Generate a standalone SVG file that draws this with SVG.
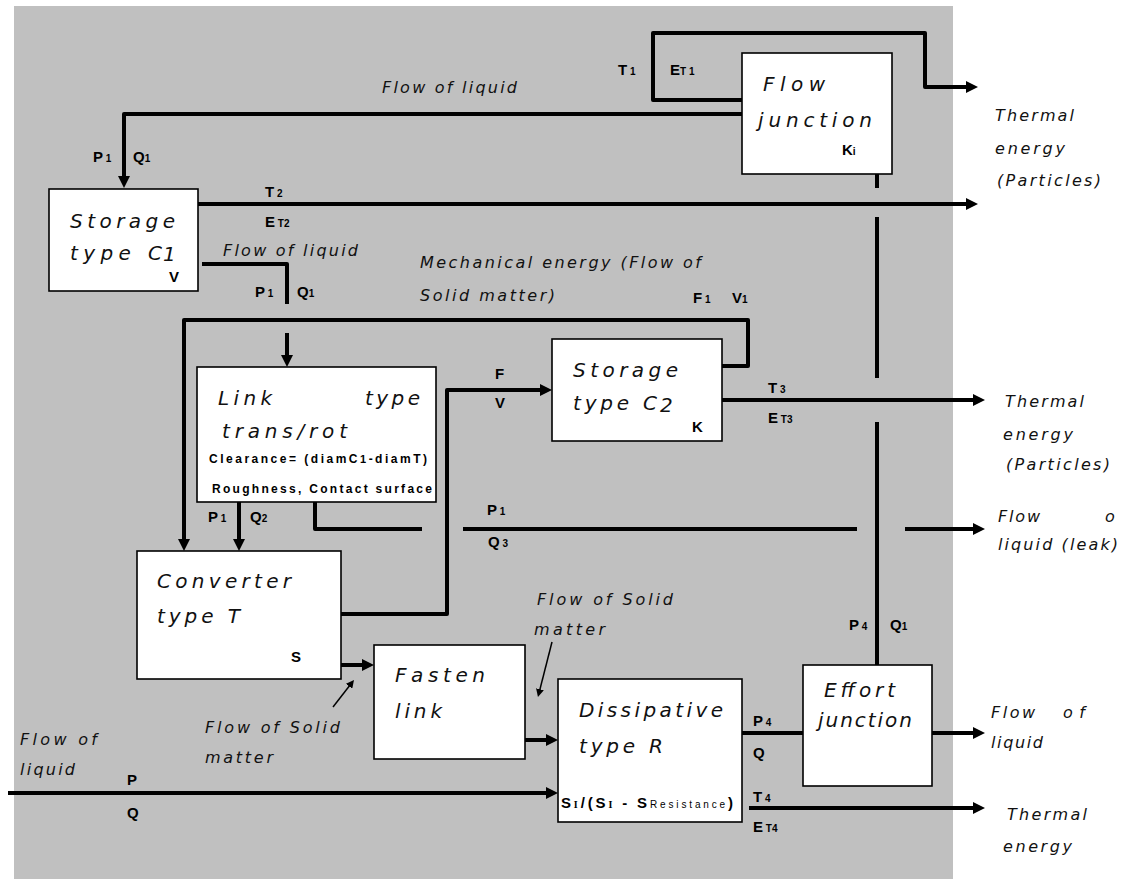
<svg xmlns="http://www.w3.org/2000/svg" width="1125" height="879" viewBox="0 0 1125 879">
<style>
.bg{fill:#c0c0c0}
.box{fill:#fff;stroke:#000;stroke-width:1.6}
.c{fill:none;stroke:#000;stroke-width:4;stroke-linejoin:round}
.t{fill:none;stroke:#000;stroke-width:1.5}
.it{font-family:"DejaVu Sans","Liberation Sans",sans-serif;font-style:italic;font-size:20px;fill:#111}
.sm{font-family:"DejaVu Sans","Liberation Sans",sans-serif;font-style:italic;font-size:16px;fill:#111}
.lb{font-family:"Liberation Sans",Arial,sans-serif;font-weight:bold;font-size:15px;fill:#000}
.sb{font-size:10px}
.nt{font-family:"Liberation Sans",Arial,sans-serif;font-weight:bold;font-size:12px;fill:#000}
</style>
<defs>
<marker id="ah" viewBox="0 0 12 12" markerWidth="12" markerHeight="12" refX="2" refY="6" orient="auto" markerUnits="userSpaceOnUse"><path d="M0,0 L12,6 L0,12 z" fill="#000"/></marker>
<marker id="as" viewBox="0 0 8 8" markerWidth="8" markerHeight="8" refX="1" refY="4" orient="auto" markerUnits="userSpaceOnUse"><path d="M0,0 L8,4 L0,8 z" fill="#000"/></marker>
</defs>
<rect class="bg" x="14" y="6" width="939" height="873"/>

<g id="connectors">
<path class="c" d="M742,100 H653 V33 H925 V87 H968" marker-end="url(#ah)"/>
<path class="c" d="M742,114 H124 V178" marker-end="url(#ah)"/>
<path class="c" d="M198,204 H968" marker-end="url(#ah)"/>
<path class="c" d="M202,264 H287 V304"/>
<path class="c" d="M287,333 V357" marker-end="url(#ah)"/>
<path class="c" d="M722,366 H748 V320 H184 V541" marker-end="url(#ah)"/>
<path class="c" d="M239,502 V541" marker-end="url(#ah)"/>
<path class="c" d="M315,502 V529 H422"/>
<path class="c" d="M463,529 H857"/>
<path class="c" d="M905,529 H975" marker-end="url(#ah)"/>
<path class="c" d="M341,614 H447 V390 H542" marker-end="url(#ah)"/>
<path class="c" d="M722,400 H975" marker-end="url(#ah)"/>
<path class="c" d="M877,174 V188 M877,217 V378 M877,422 V665"/>
<path class="c" d="M341,665 H364" marker-end="url(#ah)"/>
<path class="c" d="M525,740 H548" marker-end="url(#ah)"/>
<path class="c" d="M8,793 H548" marker-end="url(#ah)"/>
<path class="c" d="M742,733 H803"/>
<path class="c" d="M932,733 H975" marker-end="url(#ah)"/>
<path class="c" d="M749,808 H975" marker-end="url(#ah)"/>
<path class="t" d="M333,707 L349.7,685.5" marker-end="url(#as)"/>
<path class="t" d="M552,642 L539.7,690.2" marker-end="url(#as)"/>
</g>

<g id="flow-junction">
<rect class="box" x="742" y="53" width="150" height="121"/>
<text class="it" x="763" y="91" textLength="62" lengthAdjust="spacing">Flow</text>
<text class="it" x="758" y="127" textLength="114" lengthAdjust="spacing">junction</text>
<text class="lb" x="842" y="155">K<tspan class="sb">i</tspan></text>
</g>

<g id="storage-c1">
<rect class="box" x="49" y="189" width="149" height="102"/>
<text class="it" x="70" y="228" textLength="105" lengthAdjust="spacing">Storage</text>
<text class="it" x="70" y="260" textLength="92" lengthAdjust="spacing">type C</text>
<text class="it" x="163" y="261" font-size="11">1</text>
<text class="lb" x="169" y="282" font-size="15">V</text>
</g>

<g id="link">
<rect class="box" x="197" y="367" width="239" height="135"/>
<text class="it" x="218" y="405" textLength="54" lengthAdjust="spacing">Link</text>
<text class="it" x="365" y="405" textLength="55" lengthAdjust="spacing">type</text>
<text class="it" x="222" y="438" textLength="125" lengthAdjust="spacing">trans/rot</text>
<text class="nt" x="209" y="463" textLength="218" lengthAdjust="spacing">Clearance= (diamC<tspan font-size="11">1</tspan>-diamT)</text>
<text class="nt" x="212" y="493" textLength="220" lengthAdjust="spacing">Roughness, Contact surface</text>
</g>

<g id="storage-c2">
<rect class="box" x="552" y="339" width="170" height="102"/>
<text class="it" x="573" y="377" textLength="105" lengthAdjust="spacing">Storage</text>
<text class="it" x="573" y="410" textLength="84" lengthAdjust="spacing">type C</text>
<text class="it" x="660" y="412" font-size="12">2</text>
<text class="lb" x="692" y="432">K</text>
</g>

<g id="converter">
<rect class="box" x="137" y="551" width="204" height="128"/>
<text class="it" x="157" y="588" textLength="134" lengthAdjust="spacing">Converter</text>
<text class="it" x="157" y="623" textLength="83" lengthAdjust="spacing">type T</text>
<text class="lb" x="291" y="662">S</text>
</g>

<g id="fasten">
<rect class="box" x="374" y="645" width="151" height="114"/>
<text class="it" x="395" y="682" textLength="90" lengthAdjust="spacing">Fasten</text>
<text class="it" x="395" y="718" textLength="47" lengthAdjust="spacing">link</text>
</g>

<g id="dissipative">
<rect class="box" x="558" y="679" width="184" height="143"/>
<text class="it" x="579" y="717" textLength="144" lengthAdjust="spacing">Dissipative</text>
<text class="it" x="579" y="753" textLength="84" lengthAdjust="spacing">type R</text>
<text class="lb" x="561" y="808" font-size="18" textLength="172" lengthAdjust="spacing">S<tspan font-size="10" font-family="Liberation Serif,serif">I</tspan>/(S<tspan font-size="10" font-family="Liberation Serif,serif">I</tspan> - S<tspan font-size="10" font-weight="normal">Resistance</tspan>)</text>
</g>

<g id="effort-junction">
<rect class="box" x="803" y="665" width="129" height="121"/>
<text class="it" x="824" y="697" textLength="71" lengthAdjust="spacing">Effort</text>
<text class="it" x="818" y="727" textLength="94" lengthAdjust="spacing">junction</text>
</g>

<g id="labels">
<text class="sm" x="382" y="93" textLength="135" lengthAdjust="spacing">Flow of liquid</text>
<text class="sm" x="223" y="256" textLength="135" lengthAdjust="spacing">Flow of liquid</text>
<text class="sm" x="420" y="268" textLength="281" lengthAdjust="spacing">Mechanical energy (Flow of</text>
<text class="sm" x="420" y="301" textLength="135" lengthAdjust="spacing">Solid matter)</text>
<text class="sm" x="995" y="121" textLength="79" lengthAdjust="spacing">Thermal</text>
<text class="sm" x="995" y="154" textLength="70" lengthAdjust="spacing">energy</text>
<text class="sm" x="997" y="186" textLength="104" lengthAdjust="spacing">(Particles)</text>
<text class="sm" x="1005" y="407" textLength="79" lengthAdjust="spacing">Thermal</text>
<text class="sm" x="1003" y="440" textLength="70" lengthAdjust="spacing">energy</text>
<text class="sm" x="1006" y="470" textLength="104" lengthAdjust="spacing">(Particles)</text>
<text class="sm" x="998" y="522" textLength="42" lengthAdjust="spacing">Flow</text>
<text class="sm" x="1105" y="522">o</text>
<text class="sm" x="998" y="550" textLength="120" lengthAdjust="spacing">liquid (leak)</text>
<text class="sm" x="991" y="718" textLength="44" lengthAdjust="spacing">Flow</text>
<text class="sm" x="1063" y="718" textLength="22" lengthAdjust="spacing">of</text>
<text class="sm" x="991" y="748" textLength="52" lengthAdjust="spacing">liquid</text>
<text class="sm" x="1007" y="820" textLength="80" lengthAdjust="spacing">Thermal</text>
<text class="sm" x="1003" y="852" textLength="69" lengthAdjust="spacing">energy</text>
<text class="sm" x="20" y="745" textLength="77" lengthAdjust="spacing">Flow of</text>
<text class="sm" x="20" y="775" textLength="55" lengthAdjust="spacing">liquid</text>
<text class="sm" x="205" y="733" textLength="135" lengthAdjust="spacing">Flow of Solid</text>
<text class="sm" x="205" y="763" textLength="68" lengthAdjust="spacing">matter</text>
<text class="sm" x="537" y="605" textLength="136" lengthAdjust="spacing">Flow of Solid</text>
<text class="sm" x="534" y="635" textLength="71" lengthAdjust="spacing">matter</text>

<text class="lb" x="618" y="75">T<tspan class="sb"> 1</tspan></text>
<text class="lb" x="670" y="75">E<tspan class="sb">T 1</tspan></text>
<text class="lb" x="93" y="162">P<tspan class="sb"> 1</tspan></text>
<text class="lb" x="133" y="162">Q<tspan class="sb">1</tspan></text>
<text class="lb" x="265" y="197">T<tspan class="sb"> 2</tspan></text>
<text class="lb" x="265" y="227">E<tspan class="sb"> T2</tspan></text>
<text class="lb" x="255" y="297">P<tspan class="sb"> 1</tspan></text>
<text class="lb" x="297" y="297">Q<tspan class="sb">1</tspan></text>
<text class="lb" x="693" y="303">F<tspan class="sb"> 1</tspan></text>
<text class="lb" x="732" y="303" font-size="12">V<tspan class="sb">1</tspan></text>
<text class="lb" x="495" y="379">F</text>
<text class="lb" x="495" y="408" font-size="12">V</text>
<text class="lb" x="768" y="393">T<tspan class="sb"> 3</tspan></text>
<text class="lb" x="768" y="423">E<tspan class="sb"> T3</tspan></text>
<text class="lb" x="208" y="522">P<tspan class="sb"> 1</tspan></text>
<text class="lb" x="250" y="522">Q<tspan class="sb">2</tspan></text>
<text class="lb" x="487" y="515">P<tspan class="sb"> 1</tspan></text>
<text class="lb" x="488" y="547">Q<tspan class="sb"> 3</tspan></text>
<text class="lb" x="849" y="630">P<tspan class="sb"> 4</tspan></text>
<text class="lb" x="890" y="630">Q<tspan class="sb">1</tspan></text>
<text class="lb" x="753" y="726">P<tspan class="sb"> 4</tspan></text>
<text class="lb" x="753" y="758">Q</text>
<text class="lb" x="753" y="802">T<tspan class="sb"> 4</tspan></text>
<text class="lb" x="753" y="832">E<tspan class="sb"> T4</tspan></text>
<text class="lb" x="127" y="785" font-size="12">P</text>
<text class="lb" x="127" y="818">Q</text>
</g>
</svg>
